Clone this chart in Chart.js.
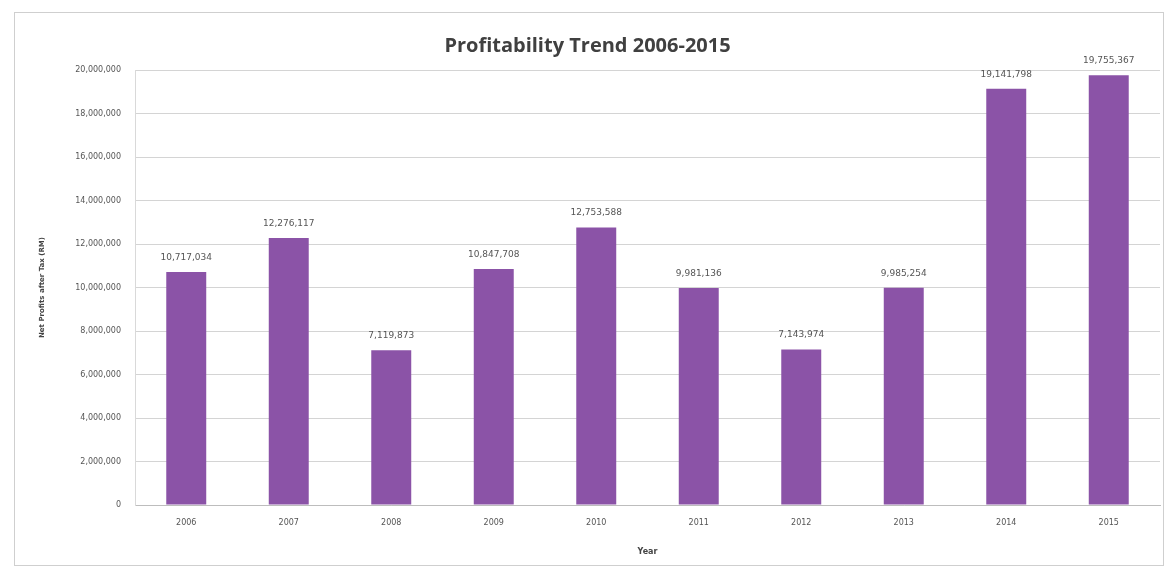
<!DOCTYPE html>
<html>
<head>
<meta charset="utf-8">
<script src="https://cdn.jsdelivr.net/npm/chart.js@4/dist/chart.umd.min.js"></script>
<style>
  html, body { margin: 0; padding: 0; background: #fff; }
  #box {
    position: absolute; left: 14px; top: 12px;
    width: 1148px; height: 552px;
    border: 1px solid #cfcfcf;
  }
  #chart { display: block; }
</style>
</head>
<body>
<div id="box"><canvas id="chart" width="1148" height="552"></canvas></div>
<script>
// Profitability Trend 2006-2015 (net profit after tax, RM)
const years = ['2006', '2007', '2008', '2009', '2010', '2011', '2012', '2013', '2014', '2015'];
const netProfit = [10717034, 12276117, 7119873, 10847708, 12753588, 9981136, 7143974, 9985254, 19141798, 19755367];
const yTicks = [0, 2000000, 4000000, 6000000, 8000000, 10000000, 12000000, 14000000, 16000000, 18000000, 20000000];

const fmt = (n) => Number(n).toLocaleString('en-US');

// value labels above each bar
const barLabels = {
  id: 'barLabels',
  afterDatasetsDraw(chart){
    const ctx = chart.ctx;
    const meta = chart.getDatasetMeta(0);
    ctx.save();
    ctx.font = '9px "DejaVu Sans"';
    ctx.fillStyle = '#555';
    ctx.textAlign = 'center';
    ctx.textBaseline = 'bottom';
    meta.data.forEach((bar, i) => {
      ctx.fillText(fmt(netProfit[i]), bar.x, bar.y - 10);
    });
    ctx.restore();
  }
};

new Chart(document.getElementById('chart'), {
  type: 'bar',
  data: {
    labels: years,
    datasets: [{
      label: 'Net Profits after Tax (RM)',
      data: netProfit,
      backgroundColor: '#8b53a7',
      categoryPercentage: 1.0,
      barPercentage: 0.39,
    }]
  },
  options: {
    responsive: false,
    animation: false,
    layout: { padding: { left: 0, right: 3, top: 0, bottom: 0 } },
    plugins: {
      legend: { display: false },
      tooltip: { enabled: false },
      title: {
        display: true,
        text: 'Profitability Trend 2006-2015',
        color: '#404040',
        font: { family: '"Open Sans"', size: 20, weight: 'bold' },
        padding: { top: 21, bottom: 12 },
      },
    },
    scales: {
      x: {
        grid: { display: false, drawTicks: false },
        border: { color: '#bdbdbd' },
        ticks: { color: '#555', font: { family: '"DejaVu Sans"', size: 8 }, padding: 13 },
        title: { display: true, text: 'Year', color: '#444', font: { family: '"DejaVu Sans"', size: 8, weight: 'bold' }, padding: { top: 0, bottom: 8 } },
        afterFit(scale){ scale.height = 60; },
      },
      y: {
        min: 0,
        max: 20000000,
        afterBuildTicks(scale){ scale.ticks = yTicks.map(v => ({ value: v })); },
        grid: { color: '#d4d4d4', drawTicks: false },
        border: { color: '#d9d9d9' },
        ticks: { color: '#555', font: { family: '"DejaVu Sans"', size: 8 }, padding: 14, callback: (v) => fmt(v) },
        title: { display: true, text: 'Net Profits after Tax (RM)', color: '#444', font: { family: '"DejaVu Sans"', size: 7, weight: 'bold' }, padding: { top: 23, bottom: 0 } },
        afterFit(scale){ scale.width = 120; },
      }
    }
  },
  plugins: [barLabels]
});
</script>
</body>
</html>
